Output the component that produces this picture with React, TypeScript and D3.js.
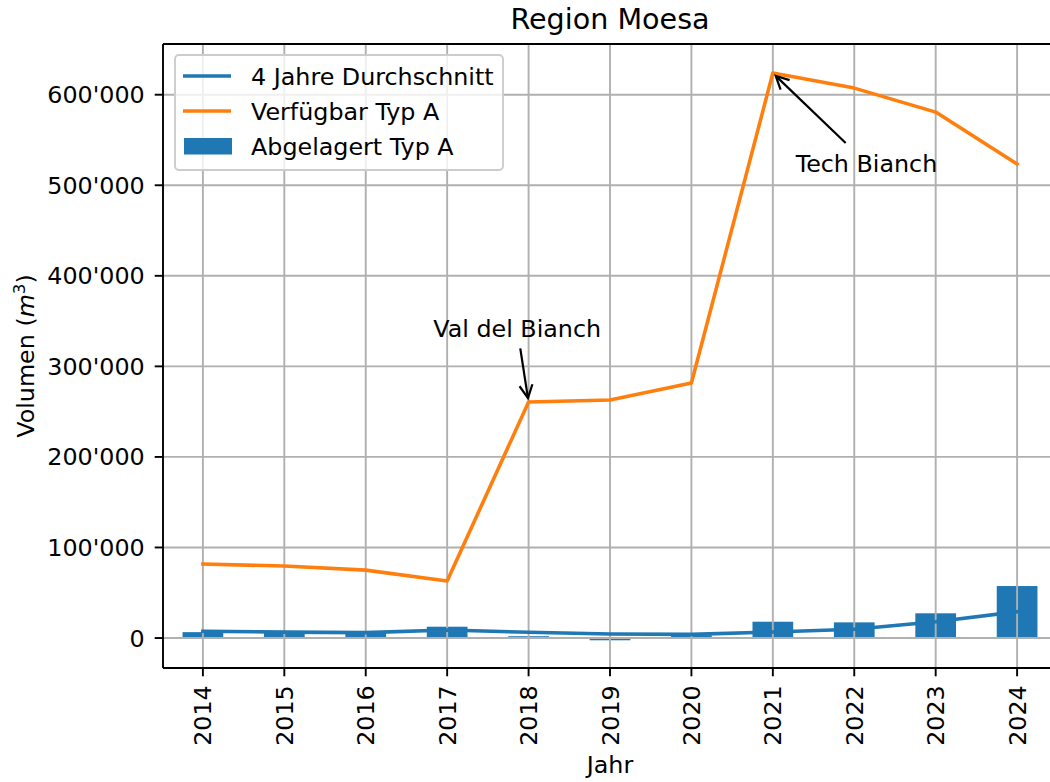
import React from "react";
import * as d3 from "d3";

const years = [2014, 2015, 2016, 2017, 2018, 2019, 2020, 2021, 2022, 2023, 2024];
const verfuegbar = [81700, 79500, 75000, 63000, 260600, 262800, 281600, 623900, 607300, 580800, 523400];
const abgelagert = [6500, 6000, 5500, 12500, 2000, -2500, 3000, 18000, 17300, 27300, 57400];
const durchschnitt = [7500, 6500, 6000, 8800, 6300, 4400, 4000, 6600, 9600, 18000, 29000];
const yTicks = [0, 100000, 200000, 300000, 400000, 500000, 600000];
const annotations = [
  { label: "Val del Bianch", year: 2018, value: 260600, textYear: 2017.86, textValue: 342000 },
  { label: "Tech Bianch", year: 2021, value: 623900, textYear: 2022.15, textValue: 524500 },
];

const W = 1050, H = 782;
const L = 163, R = 1057, T = 44, B = 668;
const FONT = "DejaVu Sans, sans-serif";
const FS = 23.8;
const LW = 3.57;
const GW = 1.9;
const TL = 8.3;
const BLUE = "#1f77b4", ORANGE = "#ff7f0e";

const fmt = (v: number) => d3.format(",")(v).replace(/,/g, "'");

export default function App() {
  const x = d3.scaleLinear().domain([2013.51, 2024.49]).range([L, R]);
  const y = d3.scaleLinear().domain([-33100, 656000]).range([B, T]);
  const bw = x(2014.25) - x(2014);
  const line = d3.line<number>().x((_, i) => x(years[i])).y((d) => y(d));

  const arrows = annotations.map((a) => {
    const cx = x(a.textYear), cy = y(a.textValue);
    const px = x(a.year), py = y(a.value);
    const hw = a.label.length * FS * 0.3 + 6, hh = 20;
    const dx = px - cx, dy = py - cy;
    const t = Math.min(Math.abs(hw / (dx || 1e-9)), Math.abs(hh / (dy || 1e-9)));
    const sx = cx + dx * t, sy = cy + dy * t;
    const len = Math.hypot(px - sx, py - sy);
    const ux = (px - sx) / len, uy = (py - sy) / len;
    const ex = px - ux * 4, ey = py - uy * 4;
    const ah = 13, aw = 6.5;
    const bx = ex - ux * ah, by = ey - uy * ah;
    const head = `M${bx + -uy * aw},${by + ux * aw}L${ex},${ey}L${bx - -uy * aw},${by - ux * aw}`;
    return { ...a, cx, cy, sx, sy, ex, ey, head };
  });

  return (
    <svg width={W} height={H} style={{ position: "absolute", left: 0, top: 0, background: "#fff" }} fontFamily={FONT}>
      <defs>
        <clipPath id="plot"><rect x={L} y={T} width={R - L} height={B - T} /></clipPath>
      </defs>
      <text x={(L + R) / 2} y={29} textAnchor="middle" fontSize={28.6}>Region Moesa</text>
      <g clipPath="url(#plot)">
        {abgelagert.map((v, i) => (
          <rect key={i} x={x(years[i]) - bw} width={bw * 2} y={Math.min(y(v), y(0))} height={Math.abs(y(v) - y(0))} fill={BLUE} />
        ))}
        {years.map((yr) => (
          <line key={yr} x1={x(yr)} x2={x(yr)} y1={T} y2={B} stroke="#b0b0b0" strokeWidth={GW} />
        ))}
        {yTicks.map((t) => (
          <line key={t} x1={L} x2={R} y1={y(t)} y2={y(t)} stroke="#b0b0b0" strokeWidth={GW} />
        ))}
        <path d={line(durchschnitt) || ""} fill="none" stroke={BLUE} strokeWidth={LW} strokeLinejoin="round" strokeLinecap="square" />
        <path d={line(verfuegbar) || ""} fill="none" stroke={ORANGE} strokeWidth={LW} strokeLinejoin="round" strokeLinecap="square" />
      </g>
      {arrows.map((a) => (
        <g key={a.label}>
          <text x={a.cx} y={a.cy + 8.5} textAnchor="middle" fontSize={FS}>{a.label}</text>
          <line x1={a.sx} y1={a.sy} x2={a.ex} y2={a.ey} stroke="#000" strokeWidth={2.2} />
          <path d={a.head} fill="none" stroke="#000" strokeWidth={2.2} />
        </g>
      ))}
      {/* spines */}
      <line x1={L} x2={L} y1={T} y2={B} stroke="#000" strokeWidth={GW} />
      <line x1={L} x2={R} y1={B} y2={B} stroke="#000" strokeWidth={GW} />
      <line x1={L} x2={R} y1={T} y2={T} stroke="#000" strokeWidth={GW} />
      <line x1={R} x2={R} y1={T} y2={B} stroke="#000" strokeWidth={GW} />
      {/* y ticks */}
      {yTicks.map((t) => (
        <g key={t}>
          <line x1={L - TL} x2={L} y1={y(t)} y2={y(t)} stroke="#000" strokeWidth={GW} />
          <text x={L - TL - 10} y={y(t) + 8.5} textAnchor="end" fontSize={FS}>{fmt(t)}</text>
        </g>
      ))}
      {/* x ticks */}
      {years.map((yr) => (
        <g key={yr}>
          <line x1={x(yr)} x2={x(yr)} y1={B} y2={B + TL} stroke="#000" strokeWidth={GW} />
          <text transform={`translate(${x(yr) + 8.5},${B + TL + 9}) rotate(-90)`} textAnchor="end" fontSize={FS}>{yr}</text>
        </g>
      ))}
      <text x={(L + R) / 2} y={773} textAnchor="middle" fontSize={FS}>Jahr</text>
      <text transform={`translate(34,${(T + B) / 2}) rotate(-90)`} textAnchor="middle" fontSize={FS}>
        Volumen (<tspan fontStyle="italic">m</tspan><tspan dy={-9} fontSize={16.7}>3</tspan><tspan dy={9}>)</tspan>
      </text>
      {/* legend */}
      <g>
        <rect x={175} y={55} width={328} height={115} rx={4} fill="#fff" fillOpacity={0.8} stroke="#cccccc" strokeWidth={1.9} />
        <line x1={183} x2={231} y1={76} y2={76} stroke={BLUE} strokeWidth={LW} />
        <text x={251} y={84.5} fontSize={FS}>4 Jahre Durchschnitt</text>
        <line x1={183} x2={231} y1={111} y2={111} stroke={ORANGE} strokeWidth={LW} />
        <text x={251} y={119.5} fontSize={FS}>Verfügbar Typ A</text>
        <rect x={184} y={138} width={48} height={16.5} fill={BLUE} />
        <text x={251} y={154.5} fontSize={FS}>Abgelagert Typ A</text>
      </g>
    </svg>
  );
}
